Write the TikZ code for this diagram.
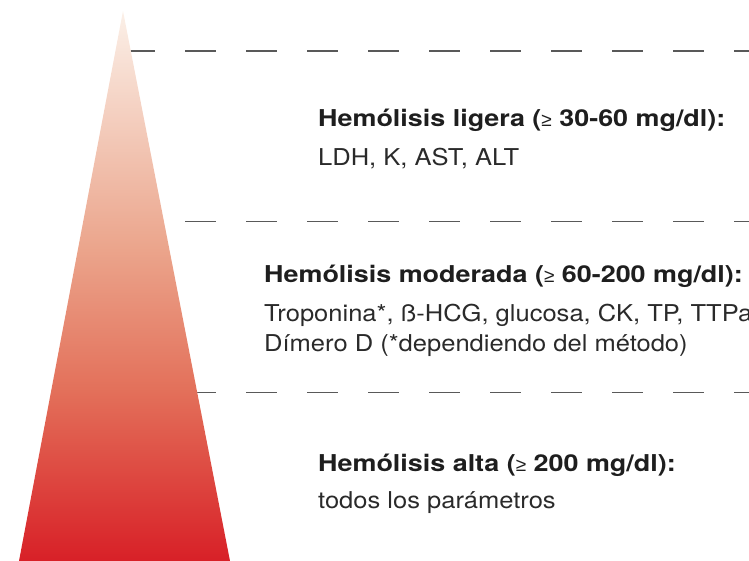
\documentclass[tikz,border=0pt]{standalone}
\usepackage{fontspec}
\setmainfont{TeX Gyre Heros}
\newfontfamily\regfont[FakeStretch=1.10]{TeX Gyre Heros}
\newfontfamily\boldfont[FakeStretch=1.16]{TeX Gyre Heros Bold}
\newfontfamily\symfont{Liberation Sans}
\definecolor{toptone}{HTML}{FBF0E8}
\definecolor{midtone}{HTML}{EBA58C}
\definecolor{lowtone}{HTML}{E3705A}
\definecolor{basetone}{HTML}{D82027}
\definecolor{dashgray}{HTML}{595959}
\definecolor{textdark}{HTML}{1E1E1E}
\definecolor{textbody}{HTML}{2A2A2A}
\pgfdeclareverticalshading{trishade}{100bp}{color(0bp)=(basetone); color(25bp)=(basetone); color(40.5bp)=(lowtone); color(53.5bp)=(midtone); color(75bp)=(toptone); color(100bp)=(toptone)}
\newcommand{\geqsym}{{\symfont\fontsize{19}{19}\selectfont ≥}}
\tikzset{
  sepline/.style={draw=dashgray, line width=1.3pt, dash pattern=on 31pt off 30pt},
  headtext/.style={anchor=base west, inner sep=0pt, text=textdark, font=\boldfont\fontsize{23.2}{23.2}\selectfont},
  bodytext/.style={anchor=base west, inner sep=0pt, text=textbody, font=\regfont\fontsize{23.2}{23.2}\selectfont},
}
\begin{document}
\begin{tikzpicture}[x=1pt,y=-1pt]
\useasboundingbox (0,0) rectangle (749,561);
% separator lines (only to the right of the triangle)
\coordinate (l1a) at (2,51);   \coordinate (l1b) at (749,51);
\coordinate (l2a) at (2,221.5);\coordinate (l2b) at (749,221.5);
\coordinate (l3a) at (2,392.5);\coordinate (l3b) at (749,392.5);
\begin{scope}
\clip (120.9,0) -- (230,561) -- (749,561) -- (749,0) -- cycle;
\draw[sepline] (l1a) -- (l1b);
\draw[sepline] (l2a) -- (l2b);
\draw[sepline] (l3a) -- (l3b);
\end{scope}
% triangle
\coordinate (apex) at (123,11);
\coordinate (bl) at (19,561);
\coordinate (br) at (230,561);
\shade[shading=trishade] (apex) -- (br) -- (bl) -- cycle;
% texts
\node[headtext] (h1) at (318,126.5) {Hemólisis ligera ({\geqsym} 30-60 mg/dl):};
\node[bodytext] (b1) at (318,165.5) {LDH, K, AST, ALT};
\node[headtext] (h2) at (264,282.3) {Hemólisis moderada ({\geqsym} 60-200 mg/dl):};
\node[bodytext] (b2) at (264,321.7) {Troponina*, ß-HCG, glucosa, CK, TP, TTPa};
\node[bodytext] (b3) at (264,351) {Dímero D (*dependiendo del método)};
\node[headtext] (h3) at (318,471) {Hemólisis alta ({\geqsym} 200 mg/dl):};
\node[bodytext] (b4) at (318,508) {todos los parámetros};
\end{tikzpicture}
\end{document}
